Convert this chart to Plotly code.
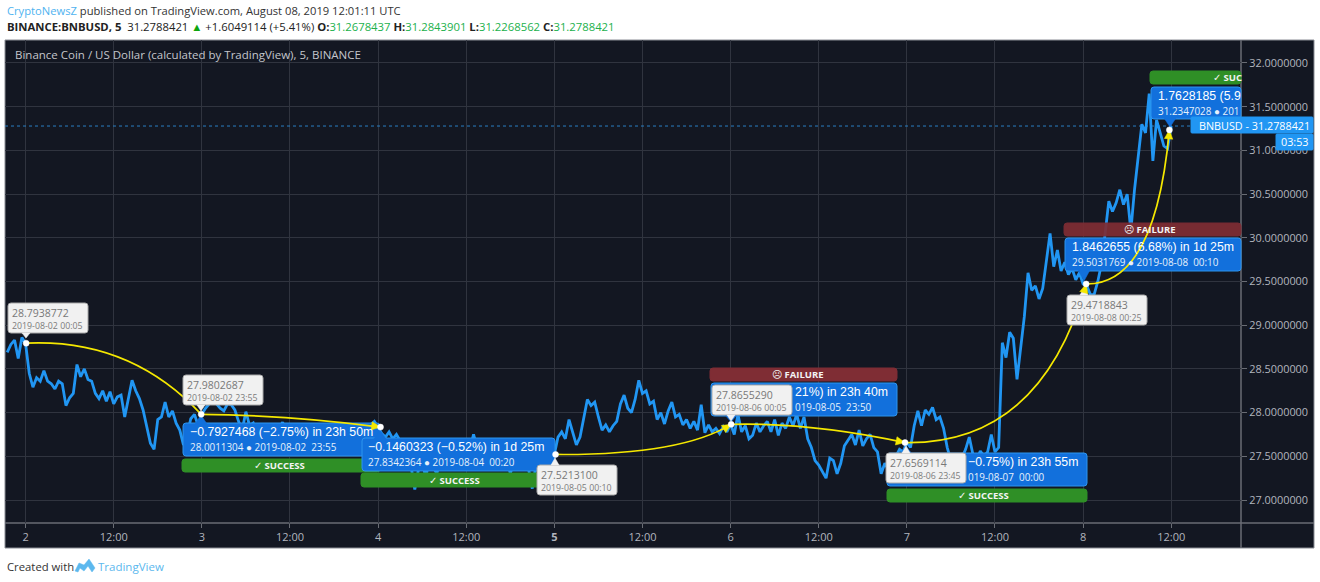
import plotly.graph_objects as go
import pandas as pd
import math

# ---------- data (30-minute samples) ----------
prices_aug1_eve = [28.69, 28.78, 28.83, 28.62, 28.86]
prices_aug2 = [28.79, 28.45, 28.29, 28.40, 28.36, 28.48, 28.36, 28.33, 28.27, 28.36, 28.33, 28.08,
               28.17, 28.22, 28.55, 28.41, 28.50, 28.38, 28.36, 28.22, 28.16, 28.25, 28.13, 28.24,
               28.10, 28.18, 28.20, 27.95, 28.15, 28.37, 28.25, 28.16, 28.03, 27.85, 27.65, 27.58,
               27.92, 27.95, 28.12, 27.95, 28.02, 27.88, 27.80, 27.63, 27.75, 27.93, 27.98, 27.85]
prices_aug3 = [27.98, 28.05, 28.10, 28.15, 28.10, 28.05, 28.02, 28.10, 28.09, 28.03, 27.90, 27.80,
               28.01, 27.85, 27.88, 27.75, 27.70, 27.86, 27.72, 27.87, 27.72, 27.80, 27.89, 27.75,
               27.82, 27.72, 27.80, 27.87, 27.78, 27.72, 27.80, 27.70, 27.76, 27.82, 27.72, 27.78,
               27.70, 27.76, 27.80, 27.74, 27.84, 27.72, 27.78, 27.70, 27.80, 27.76, 27.86, 27.90]
prices_aug4 = [27.83, 27.76, 27.72, 27.78, 27.70, 27.75, 27.68, 27.60, 27.45, 27.38, 27.12, 27.35,
               27.45, 27.25, 27.50, 27.38, 27.30, 27.48, 27.40, 27.55, 27.42, 27.50, 27.38, 27.52,
               27.45, 27.58, 27.75, 27.60, 27.50, 27.55, 27.42, 27.50, 27.45, 27.56, 27.40, 27.50,
               27.30, 27.45, 27.52, 27.40, 27.48, 27.35, 27.13, 27.40, 27.55, 27.48, 27.62, 27.50]
prices_aug5 = [27.52, 27.72, 27.78, 27.70, 27.92, 27.78, 27.63, 27.72, 27.95, 28.15, 28.08, 28.12,
               27.95, 27.80, 27.86, 27.78, 27.85, 27.90, 28.10, 28.20, 28.05, 28.00, 28.15, 28.37,
               28.22, 28.25, 28.10, 28.13, 27.92, 28.00, 27.87, 28.02, 28.12, 27.95, 27.98, 27.86,
               27.92, 27.82, 27.90, 27.80, 28.09, 27.77, 27.86, 27.78, 27.82, 27.76, 27.84, 27.78]
prices_aug6 = [27.87, 27.75, 27.98, 27.78, 27.85, 27.70, 27.74, 27.88, 27.78, 27.85, 27.90, 27.78,
               27.92, 27.74, 27.88, 27.82, 27.95, 27.85, 27.98, 27.82, 27.95, 27.70, 27.60, 27.45,
               27.40, 27.32, 27.25, 27.48, 27.45, 27.30, 27.42, 27.62, 27.68, 27.75, 27.63, 27.80,
               27.62, 27.70, 27.75, 27.60, 27.55, 27.30, 27.42, 27.35, 27.45, 27.50, 27.58, 27.55]
prices_aug7 = [27.66, 27.60, 27.85, 28.02, 27.85, 28.03, 27.98, 28.06, 27.92, 27.95, 27.82, 27.60,
               27.45, 27.50, 27.42, 27.48, 27.58, 27.72, 27.52, 27.45, 27.56, 27.50, 27.55, 27.75,
               27.55, 27.60, 28.80, 28.63, 28.92, 28.85, 28.38, 28.75, 29.10, 29.60, 29.40, 29.45,
               29.30, 29.42, 29.75, 30.05, 29.67, 29.86, 29.62, 29.72, 29.58, 29.65, 29.52, 29.60]
prices_aug8 = [29.47, 29.45, 29.35, 29.35, 29.50, 29.70, 30.05, 30.42, 30.30, 30.40, 30.55, 30.38,
               30.50, 30.08, 30.55, 30.90, 31.30, 31.20, 31.65, 30.88, 31.35, 31.20, 31.05, 31.02, 31.28]

last_price = 31.2788421
y_ticks = [27.0, 27.5, 28.0, 28.5, 29.0, 29.5, 30.0, 30.5, 31.0, 31.5, 32.0]
x_tick_vals = ["2019-08-02 00:00", "2019-08-02 12:00", "2019-08-03 00:00", "2019-08-03 12:00",
               "2019-08-04 00:00", "2019-08-04 12:00", "2019-08-05 00:00", "2019-08-05 12:00",
               "2019-08-06 00:00", "2019-08-06 12:00", "2019-08-07 00:00", "2019-08-07 12:00",
               "2019-08-08 00:00", "2019-08-08 12:00"]
x_tick_text = ["2", "12:00", "3", "12:00", "4", "12:00", "<b>5</b>", "12:00", "6", "12:00", "7", "12:00", "8", "12:00"]

# forecast anchors (time, price)
anchor_times = ["2019-08-02_00:05", "2019-08-02_23:55", "2019-08-04_00:20", "2019-08-05_00:10",
                "2019-08-06_00:05", "2019-08-06_23:45", "2019-08-08_00:25", "2019-08-08_11:45"]
anchor_prices = [28.7938772, 27.9802687, 27.8342364, 27.5213100, 27.8655290, 27.6569114, 29.4718843, 31.2347028]

# curves: (start anchor, end anchor, control time, control price)
curves = [(0, 1, "2019-08-02_14:14", 28.85), (1, 2, "2019-08-03_12:00", 27.97),
          (3, 4, "2019-08-05_17:09", 27.51), (4, 5, "2019-08-06_10:50", 27.89),
          (5, 6, "2019-08-07_18:11", 27.63), (6, 7, "2019-08-08_09:50", 29.46)]
# arrow heads: (anchor, pixel direction)
arrows = [(2, 90, -12), (4, 51, 31), (5, 95, -19), (6, 44, 162), (7, 14, 155)]

# ---------- colours ----------
BG = "#131722"; GRID = "#30343f"; LINE = "#2196f3"; YEL = "#f5e800"
AXT = "#b2b5be"; BLUE = "#1270dc"; BLUEB = "#2d95ee"; GREEN = "#2f8f26"; RED = "#7f2d34"
FONT = "Open Sans"; NARROW = "Liberation Sans"

# ---------- layout helpers ----------
L, R, T, B = 5, 1241, 40, 523
def fx(px): return (px - L) / (R - L)
def fy(py): return (B - py) / (B - T)

shapes, notes = [], []
def rbox(x0, y0, x1, y1, fill, line=None, r=3, opacity=1, layer="above"):
    a, b, c, d = fx(x0), fx(x1), fy(y0), fy(y1)
    rx, ry = r / (R - L), r / (B - T)
    p = (f"M {a+rx},{c} L {b-rx},{c} Q {b},{c} {b},{c-ry} L {b},{d+ry} Q {b},{d} {b-rx},{d} "
         f"L {a+rx},{d} Q {a},{d} {a},{d+ry} L {a},{c-ry} Q {a},{c} {a+rx},{c} Z")
    shapes.append(dict(type="path", path=p, xref="paper", yref="paper", fillcolor=fill, opacity=opacity,
                       line=dict(color=line or fill, width=1), layer=layer))
def poly(pts, fill, line=None):
    p = "M " + " L ".join(f"{fx(x)},{fy(y)}" for x, y in pts) + " Z"
    shapes.append(dict(type="path", path=p, xref="paper", yref="paper", fillcolor=fill,
                       line=dict(color=line or fill, width=0.5), layer="above"))
def seg(x0, y0, x1, y1, color, w=1, layer="below"):
    shapes.append(dict(type="line", xref="paper", yref="paper", x0=fx(x0), x1=fx(x1), y0=fy(y0), y1=fy(y1),
                       line=dict(color=color, width=w), layer=layer))
def txt(x, y, s, size=12, color="#fff", anchor="left", family=FONT):
    notes.append(dict(x=fx(x), y=fy(y), xref="paper", yref="paper", text=s, showarrow=False, xanchor=anchor,
                      yanchor="middle", borderpad=0, font=dict(size=size, color=color, family=family)))

# ---------- chart frame ----------
rbox(5, 40, 1314, 548, BG, "#8a8d94", r=0, layer="below")
seg(5, 523, 1314, 523, "#6a6d75", 1.5)
seg(1241, 40, 1241, 548, "#6a6d75", 1.5)

# ---------- status bars ----------
rbox(182, 459, 380, 472, GREEN); txt(279, 465.5, "✓ <b>SUCCESS</b>", 9.5, "#f4f4f4", "center")
rbox(361, 473, 556, 487, GREEN); txt(454, 480, "✓ <b>SUCCESS</b>", 9.5, "#f4f4f4", "center")
rbox(887, 489, 1087, 502, GREEN); txt(983, 495.5, "✓ <b>SUCCESS</b>", 9.5, "#f4f4f4", "center")
rbox(1150, 71, 1241, 84, GREEN); txt(1212, 77.5, "✓ <b>SUC</b>", 9.5, "#f4f4f4")
rbox(710, 368, 897, 381, RED); txt(798, 374.5, "☹ <b>FAILURE</b>", 9.5, "#f4f4f4", "center")
rbox(1064, 223, 1241, 236, RED, opacity=0.93); txt(1150, 229.5, "☹ <b>FAILURE</b>", 9.5, "#f4f4f4", "center")

# ---------- blue boxes ----------
def bluebox(x0, y0, x1, y1, tail_x, tail_y):
    rbox(x0, y0, x1, y1, BLUE, BLUEB)
    edge = y0 if tail_y < y0 else y1
    poly([(tail_x - 6, edge + (1 if tail_y < y0 else -1)), (tail_x + 6, edge + (1 if tail_y < y0 else -1)), (tail_x, tail_y)], BLUE)
def bluetext(x, y, a, b):
    txt(x, y, a, 12.3, "#ffffff", family=NARROW); txt(x, y + 15, b, 9.9, "#e6f0fb")

bluebox(183, 423, 380, 456, 201, 415)
bluetext(189, 432, "−0.7927468 (−2.75%) in 23h 50m", "28.0011304 ● 2019-08-02  23:55")
bluebox(362, 438, 555, 471, 380, 430)
bluetext(367, 447, "−0.1460323 (−0.52%) in 1d 25m", "27.8342364 ● 2019-08-04  00:20")
bluebox(711, 383, 897, 416, 731, 422)
bluetext(794, 392, "21%) in 23h 40m", "019-08-05  23:50")
bluebox(887, 453, 1087, 486, 906, 446)
bluetext(967, 462, "−0.75%) in 23h 55m", "019-08-07  00:00")
bluebox(1065, 238, 1241, 271, 1084, 281)
bluetext(1071, 247, "1.8462655 (6.68%) in 1d 25m", "29.5031769 ● 2019-08-08  00:10")
bluebox(1151, 87, 1241, 119, 1170, 127)
bluetext(1157, 96, "1.7628185 (5.9", "31.2347028 ● 201")

# ---------- yellow forecast curves ----------
for a, b, ct, cp in curves:
    shapes.append(dict(type="path", xref="x", yref="y", layer="above",
                       path=f"M {anchor_times[a]},{anchor_prices[a]} Q {ct},{cp} {anchor_times[b]},{anchor_prices[b]}",
                       line=dict(color=YEL, width=1.7)))

# ---------- white price labels ----------
def whitebox(x0, y0, tail_x, tail_y, a, b):
    x1, y1 = x0 + 80, y0 + 30
    edge = y1 if tail_y > y1 else y0
    rbox(x0, y0, x1, y1, "#f1f1f1", "#a9a9a9")
    poly([(tail_x - 4, edge), (tail_x + 4, edge), (tail_x, tail_y)], "#f1f1f1")
    txt(x0 + 3, y0 + 10, a, 10.5, "#787878"); txt(x0 + 3, y0 + 23, b, 8.8, "#7c7c7c")

whitebox(8, 303, 26, 338, "28.7938772", "2019-08-02 00:05")
whitebox(183, 375, 201, 411, "27.9802687", "2019-08-02 23:55")
whitebox(537, 465, 555, 458, "27.5213100", "2019-08-05 00:10")
whitebox(712, 385, 731, 421, "27.8655290", "2019-08-06 00:05")
whitebox(886, 453, 906, 446, "27.6569114", "2019-08-06 23:45")
whitebox(1067, 295, 1084, 288, "29.4718843", "2019-08-08 00:25")

# ---------- arrow heads and end points, anchored on the data ----------
for i, dx, dy in arrows:
    n = math.hypot(dx, dy); ux, uy = dx / n, dy / n
    bx, by = -9 * ux, -9 * uy
    nx, ny = -uy * 4.2, ux * 4.2
    shapes.append(dict(type="path", layer="above", xref="x", yref="y", xsizemode="pixel", ysizemode="pixel",
                       xanchor=anchor_times[i].replace("_", " "), yanchor=anchor_prices[i],
                       path=f"M 0 0 L {bx+nx:.2f} {by+ny:.2f} L {bx-nx:.2f} {by-ny:.2f} Z",
                       fillcolor=YEL, line=dict(color=YEL, width=0.5)))
for t, p in zip(anchor_times, anchor_prices):
    shapes.append(dict(type="circle", layer="above", xref="x", yref="y", xsizemode="pixel", ysizemode="pixel",
                       xanchor=t.replace("_", " "), yanchor=p, x0=-3, x1=3, y0=-3, y1=3,
                       fillcolor="#ffffff", line=dict(color="#ffffff", width=0.5)))

# ---------- price tag on the axis ----------
rbox(1191, 117, 1313, 133, LINE, r=1); txt(1198, 125, "BNBUSD - 31.2788421", 10.8, "#ffffff")
rbox(1276, 134, 1313, 150, LINE, r=1); txt(1295, 142, "03:53", 10.8, "#ffffff", "center")

# ---------- header, inner title, footer ----------
G = "#22b14c"
txt(6, 10.5, '<span style="color:#4fb3f0">CryptoNewsZ</span> published on TradingView.com, August 08, 2019 12:01:11 UTC', 11.2, "#333333")
txt(6, 27, f'<b>BINANCE:BNBUSD, 5</b>  31.2788421 <span style="color:#0da50d">▲</span> +1.6049114 (+5.41%) '
           f'<b>O:</b><span style="color:{G}">31.2678437</span> <b>H:</b><span style="color:{G}">31.2843901</span> '
           f'<b>L:</b><span style="color:{G}">31.2268562</span> <b>C:</b><span style="color:{G}">31.2788421</span>', 11.3, "#222222")
txt(14, 55, "Binance Coin / US Dollar (calculated by TradingView), 5, BINANCE", 11.5, "#c4c6cc")
txt(6, 566, "Created with", 11.3, "#333333")
txt(97, 566, "TradingView", 11.5, "#5cb8ee")
poly([(75, 571), (79, 563), (84, 565), (89, 559), (95, 568), (92, 572), (88, 566), (84, 571), (80, 568), (78, 572)], "#5cb8ee")

# ---------- figure ----------
days = [("2019-08-01 21:30", prices_aug1_eve), ("2019-08-02 00:00", prices_aug2), ("2019-08-03 00:00", prices_aug3),
        ("2019-08-04 00:00", prices_aug4), ("2019-08-05 00:00", prices_aug5), ("2019-08-06 00:00", prices_aug6),
        ("2019-08-07 00:00", prices_aug7), ("2019-08-08 00:00", prices_aug8)]
times, prices = [], []
for start, vals in days:
    times += list(pd.date_range(start, periods=len(vals), freq="30min"))
    prices += vals

x_range = ["2019-08-01 21:12", "2019-08-08 21:30"]

fig = go.Figure()
fig.add_trace(go.Scatter(x=x_range, y=[last_price, last_price], mode="lines",
                         line=dict(color="#2a7fc4", width=1, dash="dot"), hoverinfo="skip"))
fig.add_trace(go.Scatter(x=times, y=prices, mode="lines", line=dict(color=LINE, width=2.8), name="BNBUSD"))

fig.update_layout(
    width=1320, height=582, margin=dict(l=L, r=1320 - R, t=T, b=582 - B, pad=0),
    paper_bgcolor="#ffffff", plot_bgcolor=BG, showlegend=False, shapes=shapes, annotations=notes,
    font=dict(family=FONT),
    xaxis=dict(range=x_range, type="date", tickmode="array", tickvals=x_tick_vals, ticktext=x_tick_text,
               showgrid=True, gridcolor=GRID, gridwidth=1, zeroline=False, ticks="outside", ticklen=4,
               tickcolor="#6a6d75", tickfont=dict(size=11, color=AXT, family=FONT), showline=False),
    yaxis=dict(range=[26.737, 32.263], side="right", tickmode="array", tickvals=y_ticks, tickformat=".7f",
               showgrid=True, gridcolor=GRID, gridwidth=1, zeroline=False, ticks="outside", ticklen=5,
               tickcolor="#6a6d75", tickfont=dict(size=10.9, color=AXT, family=FONT), showline=False),
)
fig.write_html("out.html", config=dict(displayModeBar=False), post_script="document.body.style.margin='0';")
